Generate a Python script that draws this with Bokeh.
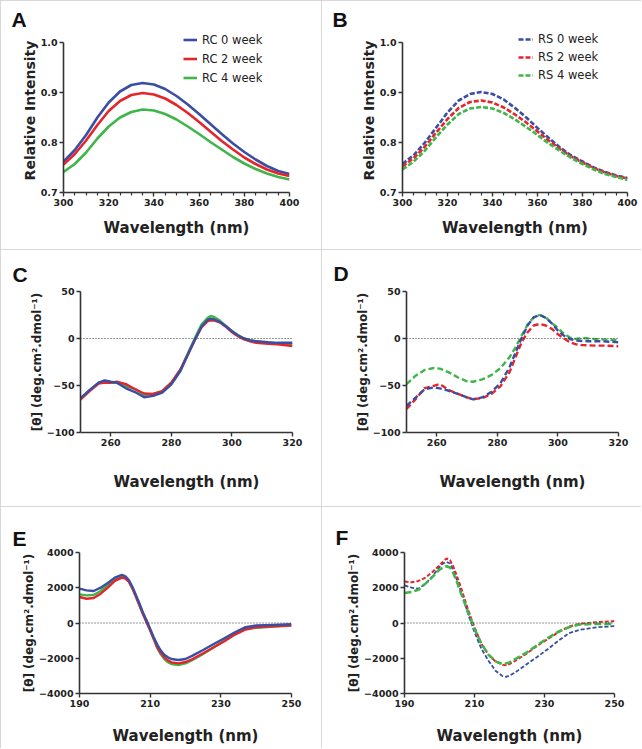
from bokeh.plotting import figure
from bokeh.layouts import column, row
from bokeh.models import Legend, Span, FixedTicker, Range1d, PrintfTickFormatter
from bokeh.embed import file_html
from bokeh.resources import INLINE

# ---------------- data ----------------
# Panel A / B : intrinsic fluorescence
fl_x = [300, 305, 310, 315, 320, 325, 330, 335, 340, 345, 350, 355, 360, 365, 370, 375, 380, 385, 390, 395, 400]
rc0 = [0.762, 0.785, 0.815, 0.850, 0.880, 0.902, 0.915, 0.919, 0.916, 0.907, 0.893, 0.876, 0.857, 0.837, 0.817, 0.798, 0.781, 0.766, 0.753, 0.743, 0.737]
rc2 = [0.756, 0.777, 0.804, 0.835, 0.863, 0.883, 0.895, 0.899, 0.896, 0.888, 0.875, 0.859, 0.841, 0.822, 0.803, 0.786, 0.770, 0.757, 0.746, 0.738, 0.733]
rc4 = [0.741, 0.757, 0.780, 0.808, 0.832, 0.850, 0.861, 0.866, 0.864, 0.857, 0.846, 0.832, 0.817, 0.801, 0.786, 0.771, 0.758, 0.747, 0.738, 0.731, 0.726]
rs0 = [0.757, 0.775, 0.800, 0.830, 0.860, 0.884, 0.897, 0.901, 0.897, 0.886, 0.869, 0.850, 0.829, 0.809, 0.790, 0.774, 0.762, 0.750, 0.741, 0.734, 0.729]
rs2 = [0.752, 0.769, 0.792, 0.820, 0.847, 0.869, 0.881, 0.884, 0.880, 0.870, 0.856, 0.840, 0.822, 0.804, 0.787, 0.772, 0.760, 0.749, 0.740, 0.733, 0.728]
rs4 = [0.746, 0.762, 0.784, 0.811, 0.836, 0.857, 0.868, 0.871, 0.868, 0.859, 0.846, 0.831, 0.815, 0.798, 0.783, 0.769, 0.757, 0.746, 0.737, 0.731, 0.725]
fl_labels_rc = ["RC 0 week", "RC 2 week", "RC 4 week"]
fl_labels_rs = ["RS 0 week", "RS 2 week", "RS 4 week"]

# Panel C : near-UV CD (RC)
c_x = [250, 253, 256, 258, 260, 262, 265, 268, 271, 274, 277, 280, 283, 286, 288, 290, 292, 293, 294, 296, 298, 300, 302, 304, 306, 308, 310, 312, 315, 320]
c_rc0 = [-63.5, -55, -47, -44.5, -46, -47, -53, -57, -62.5, -61, -57.5, -48.7, -34.6, -13.4, 0, 13, 20, 21, 20.5, 17.6, 13, 7.8, 3.5, 0, -2, -3, -3.5, -4, -4.6, -4.6]
c_rc2 = [-65, -56, -48, -47, -47, -46, -48.5, -54, -58.5, -59, -56, -47, -33, -13.4, 0, 12, 18.4, 19.2, 19.4, 17.3, 12.5, 6.7, 2.5, -1, -3, -4.6, -5.2, -5.6, -6.2, -8]
c_rc4 = [-64, -55, -47, -46, -47, -47, -51, -53.5, -60, -59, -56, -47, -33, -12, 2, 15, 22, 24, 23, 19, 13.5, 8, 3.5, 0, -1.8, -3, -3.8, -4.5, -5.2, -6]

# Panel D : near-UV CD (RS)
d_x = [250, 253, 256, 259, 261, 264, 267, 270, 272, 275, 278, 281, 284, 286, 288, 290, 292, 294, 296, 298, 300, 302, 304, 306, 308, 310, 313, 316, 320]
d_rs0 = [-71.7, -63, -54, -52, -53, -55.6, -59, -62.7, -64.8, -62.7, -57, -47.7, -30.7, -15, 0.4, 14, 22.5, 25, 22, 16, 8.4, 3, -0.5, -2.2, -2.7, -2.9, -2.9, -3.2, -4]
d_rs2 = [-75, -64.5, -52.8, -50.3, -48.5, -54.9, -59, -62.7, -64.5, -63.5, -59, -51, -36, -20, -4, 6.7, 13.8, 15.5, 13.8, 10.2, 4.5, 0, -4, -6.2, -7, -7.3, -7.6, -7.6, -8.3]
d_rs4 = [-48.5, -39.6, -33.5, -31.4, -32, -36, -41.5, -45.5, -46, -43.5, -39, -31.5, -20, -9.4, 3, 14.8, 22.6, 25, 22.6, 16.2, 11.2, 4.9, 1, -0.5, 0.6, 0, -0.8, -1.2, -1.5]

# Panel E : far-UV CD (RC)
e_x = [190, 192, 194, 196, 198, 200, 202, 203, 204, 205, 206, 207, 208, 209, 210, 211, 212, 213, 214, 215, 216, 218, 220, 222, 225, 228, 231, 234, 237, 240, 245, 250]
e_rc0 = [1946, 1853, 1815, 2005, 2272, 2576, 2728, 2652, 2424, 2044, 1568, 1093, 560, 143, -333, -808, -1226, -1568, -1806, -1949, -2044, -2100, -2044, -1853, -1530, -1188, -865, -523, -238, -143, -105, -67]
e_rc2 = [1473, 1378, 1416, 1663, 2005, 2386, 2576, 2519, 2329, 1949, 1473, 980, 485, 30, -428, -900, -1378, -1700, -1949, -2120, -2234, -2291, -2215, -2044, -1720, -1378, -1036, -656, -371, -238, -181, -143]
e_rc4 = [1625, 1568, 1587, 1815, 2139, 2462, 2652, 2576, 2367, 1960, 1511, 1010, 523, 65, -390, -900, -1416, -1780, -2044, -2220, -2329, -2386, -2291, -2100, -1758, -1378, -998, -618, -333, -276, -200, -124]

# Panel F : far-UV CD (RS)
f_x = [190, 192, 194, 196, 198, 200, 201, 202, 203, 204, 205, 206, 207, 208, 209, 210, 211, 212, 214, 216, 218, 219, 220, 222, 225, 228, 231, 234, 237, 240, 245, 250]
f_rs0 = [2139, 2005, 1947, 2234, 2652, 3184, 3374, 3469, 3374, 2956, 2424, 1853, 1283, 618, 48, -523, -998, -1473, -2139, -2709, -3013, -3051, -2994, -2747, -2329, -1910, -1473, -998, -580, -390, -238, -181]
f_rs2 = [2348, 2310, 2386, 2576, 2899, 3279, 3480, 3659, 3564, 3184, 2652, 2082, 1473, 865, 295, -238, -720, -1188, -1796, -2177, -2367, -2405, -2329, -2101, -1720, -1283, -903, -523, -200, -48, 48, 105]
f_rs4 = [1701, 1758, 1891, 2234, 2614, 3032, 3150, 3222, 3146, 2804, 2329, 1758, 1240, 713, 190, -333, -760, -1188, -1796, -2177, -2329, -2300, -2234, -2006, -1663, -1245, -846, -485, -238, -86, -48, -48]

# tick definitions
fl_xticks = [300, 320, 340, 360, 380, 400]
fl_xminor = [305, 310, 315, 325, 330, 335, 345, 350, 355, 365, 370, 375, 385, 390, 395]
fl_yticks = [0.7, 0.8, 0.9, 1.0]
nuv_xticks = [260, 280, 300, 320]
nuv_yticks = [-100, -50, 0, 50]
fuv_xticks = [190, 210, 230, 250]
fuv_yticks = [-4000, -2000, 0, 2000, 4000]

BLUE = "#3a4ea3"
RED = "#e4262c"
GREEN = "#3fb54a"
INK = "#222222"
CD_LABEL = "[\u03b8] (deg.cm\u00b2.dmol\u207b\u00b9)"


def make_fig(letter, w, h, left, right, top, bottom, xr, yr, ybounds,
             xticks, yticks, ylabel, ylabel_size, xstand,
             letter_left, letter_standoff, xminor=None, yfmt=None):
    p = figure(width=w, height=h, x_range=Range1d(*xr), y_range=Range1d(*yr),
               output_backend="svg", toolbar_location=None,
               min_border_left=left, min_border_right=right,
               min_border_top=top, min_border_bottom=bottom)
    p.outline_line_color = None
    p.xgrid.visible = False
    p.ygrid.visible = False
    p.background_fill_color = "white"
    p.border_fill_color = "white"
    p.styles = {"outline": "1px solid #cbcbcb", "outline-offset": "-1px"}
    p.xaxis.ticker = FixedTicker(ticks=xticks, minor_ticks=xminor or [])
    p.yaxis.ticker = FixedTicker(ticks=yticks)
    if yfmt:
        p.yaxis.formatter = PrintfTickFormatter(format=yfmt)
    p.yaxis.bounds = ybounds
    for ax in (p.xaxis[0], p.yaxis[0]):
        ax.axis_line_color = "#333333"
        ax.axis_line_width = 1.6
        ax.major_tick_line_color = "#333333"
        ax.major_tick_line_width = 1.4
        ax.major_tick_in = 0
        ax.major_tick_out = 4
        ax.minor_tick_line_color = "#333333"
        ax.minor_tick_line_width = 1.2
        ax.minor_tick_in = 0
        ax.minor_tick_out = 3
        ax.major_label_text_font = "DejaVu Sans"
        ax.major_label_text_font_style = "bold"
        ax.major_label_text_font_size = "9.5px"
        ax.major_label_text_color = INK
        ax.major_label_standoff = 2
        ax.axis_label_text_font = "DejaVu Sans"
        ax.axis_label_text_font_style = "bold"
        ax.axis_label_text_color = INK
    p.xaxis.axis_label = "Wavelength (nm)"
    p.xaxis.axis_label_text_font_size = "15px"
    p.xaxis.axis_label_standoff = xstand
    p.yaxis.axis_label = ylabel
    p.yaxis.axis_label_text_font_size = ylabel_size
    p.yaxis.axis_label_standoff = 0
    p.title.text = letter
    p.title.align = "left"
    p.title.offset = letter_left - left - 1
    p.title.text_font = "Liberation Sans"
    p.title.text_font_style = "bold"
    p.title.text_font_size = "21px"
    p.title.text_color = "#111111"
    p.title.standoff = letter_standoff
    return p


def add_legend(p, renderers, labels, x, y, lh, sp, gw):
    leg = Legend(items=[(lab, [r]) for lab, r in zip(labels, renderers)],
                 location=(x, y), orientation="vertical")
    leg.border_line_color = None
    leg.background_fill_alpha = 0
    leg.padding = 0
    leg.margin = 0
    leg.spacing = sp
    leg.label_height = lh
    leg.glyph_height = lh
    leg.glyph_width = gw
    leg.label_standoff = 5
    leg.label_text_font = "DejaVu Sans"
    leg.label_text_font_size = "11.5px"
    leg.label_text_color = INK
    p.add_layout(leg)


def zero_line(p):
    p.add_layout(Span(location=0, dimension="width", line_color="#333333",
                      line_dash="1 2", line_width=1))


# ---------------- Panel A ----------------
pa = make_fig("A", 321, 249, 63, 32, 28, 57, (300, 400), (0.7, 1.028), (0.7, 1.0),
              fl_xticks, fl_yticks, "Relative Intensity", "14px", 10, 12, -4,
              fl_xminor, "%.1f")
ra = [pa.line(fl_x, ys, line_color=c, line_width=2.6)
      for ys, c in ((rc0, BLUE), (rc2, RED), (rc4, GREEN))]
add_legend(pa, ra, fl_labels_rc, 120, 107, 15, 4, 14)

# ---------------- Panel B ----------------
pb = make_fig("B", 320, 249, 81, 14, 28, 57, (300, 400), (0.7, 1.028), (0.7, 1.0),
              fl_xticks, fl_yticks, "Relative Intensity", "14px", 10, 12, -4,
              fl_xminor, "%.1f")
rb = [pb.line(fl_x, ys, line_color=c, line_width=2.6, line_dash="5 2")
      for ys, c in ((rs0, BLUE), (rs2, RED), (rs4, GREEN))]
add_legend(pb, rb, fl_labels_rs, 116, 110, 14, 4, 15)

# ---------------- Panel C ----------------
pc = make_fig("C", 321, 257, 80, 29, 41, 74, (250, 320), (-100, 50), (-100, 50),
              nuv_xticks, nuv_yticks, CD_LABEL, "12px", 24, 13, 11)
zero_line(pc)
for ys, c in ((c_rc4, GREEN), (c_rc2, RED), (c_rc0, BLUE)):
    pc.line(c_x, ys, line_color=c, line_width=2.4)

# ---------------- Panel D ----------------
pd_ = make_fig("D", 320, 257, 85, 23, 42, 74, (250, 320), (-100, 50), (-100, 50),
               nuv_xticks, nuv_yticks, CD_LABEL, "12px", 24, 13, 13)
zero_line(pd_)
for ys, c in ((d_rs4, GREEN), (d_rs2, RED), (d_rs0, BLUE)):
    pd_.line(d_x, ys, line_color=c, line_width=2.4, line_dash="6 3")

# ---------------- Panel E ----------------
pe = make_fig("E", 321, 242, 79, 30, 46, 55, (190, 250), (-4000, 4000), (-4000, 4000),
              fuv_xticks, fuv_yticks, CD_LABEL, "12px", 17, 13, 6)
zero_line(pe)
for ys, c in ((e_rc4, GREEN), (e_rc2, RED), (e_rc0, BLUE)):
    pe.line(e_x, ys, line_color=c, line_width=2.4)

# ---------------- Panel F ----------------
pf = make_fig("F", 320, 242, 83, 27, 46, 55, (190, 250), (-4000, 4000), (-4000, 4000),
              fuv_xticks, fuv_yticks, CD_LABEL, "12px", 17, 15, 7)
zero_line(pf)
pf.line(f_x, f_rs0, line_color=BLUE, line_width=1.8, line_dash="4 2")
pf.line(f_x, f_rs2, line_color=RED, line_width=2.0, line_dash="4 2")
pf.line(f_x, f_rs4, line_color=GREEN, line_width=2.6, line_dash="7 3")

layout = column(row(pa, pb), row(pc, pd_), row(pe, pf))

open("out.html", "w").write(file_html(layout, INLINE))
